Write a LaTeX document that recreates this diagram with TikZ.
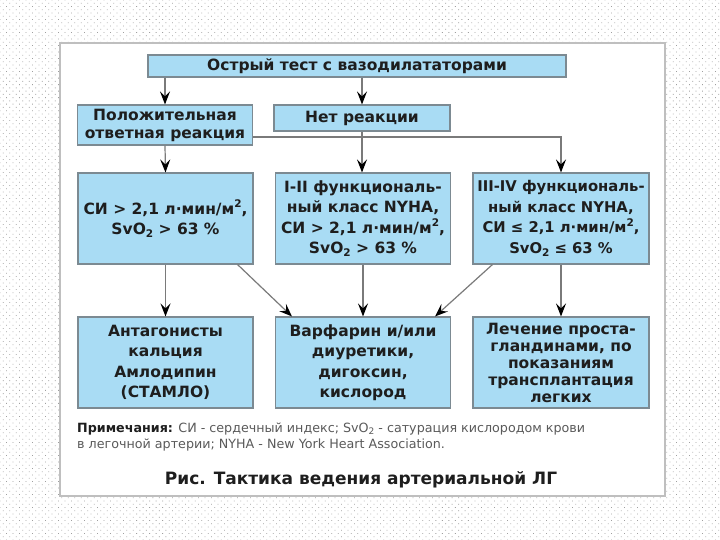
\documentclass[tikz,border=0pt]{standalone}
\usepackage{fontspec}
\setmainfont{DejaVu Sans}
\usetikzlibrary{arrows.meta,patterns.meta,calc}
\definecolor{boxfill}{HTML}{A9DCF4}
\definecolor{boxline}{HTML}{7C8A92}
\definecolor{txt}{HTML}{1E1E1E}
\definecolor{conn}{HTML}{7A7A7A}
\definecolor{notegray}{HTML}{5A5A5A}
\newcommand{\sbtwo}{\raisebox{-0.35ex}{\fontsize{10.5}{10.5}\selectfont 2}}
\newcommand{\sptwo}{\raisebox{0.8ex}{\fontsize{10.5}{10.5}\selectfont 2}}
\tikzset{
  fbox/.style={draw=boxline, line width=1.1pt, fill=boxfill, rectangle, align=center,
    text=txt, inner sep=2pt, font=\bfseries\fontsize{15.5}{20.5}\selectfont},
  arr/.style={draw=conn, line width=1.2pt, -{Stealth[length=13pt,width=10pt,inset=5pt,black]}},
}
\begin{document}
\begin{tikzpicture}[x=1pt,y=-1pt]
\useasboundingbox (0,0) rectangle (720,540);
% background
\fill[white] (0,0) rectangle (720,540);
\fill[pattern={Dots[distance=4.6pt,radius=0.55pt,angle=45]}, pattern color=gray!75] (0,0) rectangle (720,540);
% panel
\draw[draw=gray!50, line width=1.3pt, fill=white] (60,43) rectangle (665,496);

% nodes
\node[fbox, minimum width=418pt, minimum height=22pt] (top) at (357,66) {Острый тест с вазодилататорами};
\node[fbox, minimum width=175pt, minimum height=40pt, font=\bfseries\fontsize{15.5}{18}\selectfont] (pos) at (165,125) {Положительная\\ответная реакция};
\node[fbox, minimum width=176pt, minimum height=26pt] (net) at (362,118) {Нет реакции};

\node[fbox, minimum width=175pt, minimum height=91pt] (r2l) at (165.5,218.5) {СИ > 2,1 л·мин/м\sptwo,\\SvO\sbtwo{} > 63 \%};
\node[fbox, minimum width=175pt, minimum height=91pt] (r2m) at (363,218.5) {I-II функциональ-\\ный класс NYHA,\\СИ > 2,1 л·мин/м\sptwo,\\SvO\sbtwo{} > 63 \%};
\node[fbox, minimum width=176pt, minimum height=91pt, font=\bfseries\fontsize{14.8}{20.5}\selectfont] (r2r) at (561,218.5) {III-IV функциональ-\\ный класс NYHA,\\СИ ≤ 2,1 л·мин/м\sptwo,\\SvO\sbtwo{} ≤ 63 \%};

\node[fbox, minimum width=175pt, minimum height=91pt] (r3l) at (165.5,362.5) {Антагонисты\\кальция\\Амлодипин\\(СТАМЛО)};
\node[fbox, minimum width=175pt, minimum height=91pt] (r3m) at (363,362.5) {Варфарин и/или\\диуретики,\\дигоксин,\\кислород};
\node[fbox, minimum width=176pt, minimum height=91pt, font=\bfseries\fontsize{15.5}{17}\selectfont] (r3r) at (561,362.5) {Лечение проста-\\гландинами, по\\показаниям\\трансплантация\\легких};

% connectors
\coordinate (hy) at (0,137);
\draw[arr] (top.south -| pos.north) -- (pos.north);
\draw[arr] (top.south -| net.north) -- (net.north);
\draw[arr] (pos.south) -- (r2l.north);
\draw[arr] (net.south) -- (net.south |- r2m.north);
\draw[arr] (pos.east |- hy) -| (r2r.north);
\draw[arr] (r2l.south) -- (r3l.north);
\draw[arr] (r2m.south) -- (r3m.north);
\draw[arr] (r2r.south) -- (r3r.north);
\draw[arr] ($(r2l.south east)+(-16,0)$) -- ($(r3m.north west)+(17,0)$);
\draw[arr] ($(r2r.south west)+(20,0)$) -- ($(r3m.north east)+(-16,0)$);

% notes
\node[anchor=north west, align=left, inner sep=0pt, text=notegray, font=\fontsize{12.7}{15.5}\selectfont] (notes) at (77,423)
  {{\bfseries\color{txt}Примечания:} СИ - сердечный индекс; SvO\raisebox{-0.3ex}{\fontsize{9}{9}\selectfont 2} - сатурация кислородом крови\\в легочной артерии; NYHA - New York Heart Association.};
\node[text=txt, inner sep=0pt, font=\bfseries\fontsize{17}{20}\selectfont] (cap) at (361,480) {Рис. Тактика ведения артериальной ЛГ};
\end{tikzpicture}
\end{document}
